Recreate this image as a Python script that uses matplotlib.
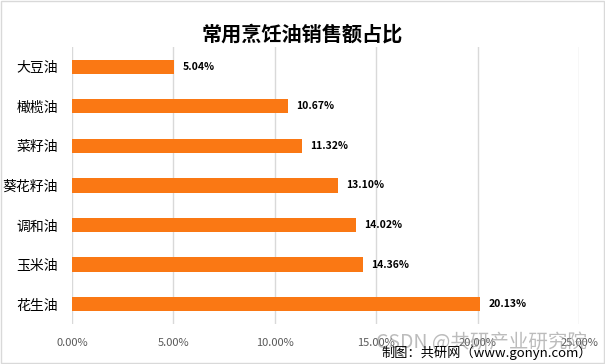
import matplotlib.pyplot as plt
from matplotlib.patches import Rectangle

plt.rcParams['font.family'] = ['Noto Sans CJK SC', 'DejaVu Sans']

# 数据（从上到下）
categories = ['大豆油', '橄榄油', '菜籽油', '葵花籽油', '调和油', '玉米油', '花生油']
values = [5.04, 10.67, 11.32, 13.10, 14.02, 14.36, 20.13]
ticks = [0, 5, 10, 15, 20, 25]

fig = plt.figure(figsize=(6.05, 3.64), dpi=100)
ax = fig.add_axes([0.119, 0.110, 0.838, 0.761])

y = list(range(len(categories)))
ax.barh(y, values, height=0.36, color='#fa7814', zorder=3)
ax.set_ylim(len(categories) - 0.5, -0.5)
ax.set_xlim(0, 25)
ax.set_yticks(y)
ax.set_yticklabels(categories, fontsize=10, color='#000000')
ax.set_xticks(ticks)
ax.set_xticklabels(['%.2f%%' % t for t in ticks], fontsize=8, color='#595959')
ax.tick_params(axis='y', length=0, pad=10)
ax.tick_params(axis='x', length=0, pad=10)
ax.grid(axis='x', color='#d9d9d9', linewidth=1, zorder=0)
for s in ax.spines.values():
    s.set_visible(False)

for yi, v in zip(y, values):
    ax.text(v + 0.4, yi, '%.2f%%' % v, va='center', ha='left',
            fontsize=7.5, fontweight='bold', color='#000000')

fig.text(0.5, 0.907, '常用烹饪油销售额占比', ha='center', va='center',
         fontsize=14.5, fontweight='bold')

# 水印与来源
fig.text(0.622, 0.058, 'CSDN @共研产业研究院', fontsize=14, color='#909090',
         alpha=0.6, va='center', ha='left')
fig.text(0.631, 0.030, '制图：共研网（www.gonyn.com）', fontsize=9.5,
         color='#000000', va='center', ha='left')

fig.patches.append(Rectangle((0.002, 0.003), 0.996, 0.994, transform=fig.transFigure,
                             fill=False, edgecolor='#d9d9d9', linewidth=1))

plt.savefig('out.png', dpi=100, facecolor='white')
plt.close()
